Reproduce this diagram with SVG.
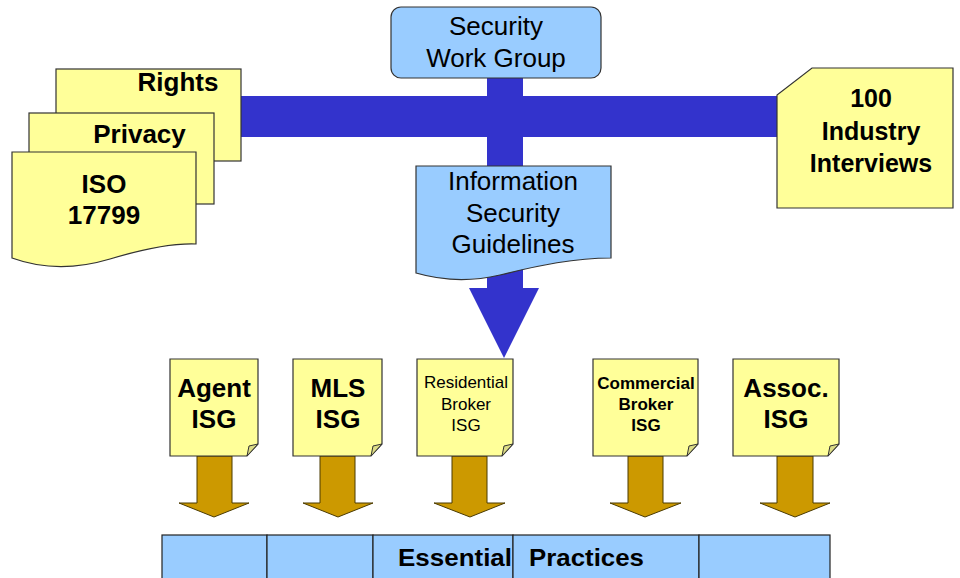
<svg xmlns="http://www.w3.org/2000/svg" width="960" height="578" viewBox="0 0 960 578">
  <style>
    .doc { fill: #FFFF99; stroke: #333333; stroke-width: 1.2; }
    .fold { fill: #DCDC86; stroke: #333333; stroke-width: 1; }
    .box { fill: #99CCFF; stroke: #333333; stroke-width: 1.2; }
    .bar { fill: #3333CC; }
    .gold { fill: #CC9900; stroke: #4A3A00; stroke-width: 1; }
    .cell { fill: #99CCFF; stroke: #222222; stroke-width: 1.2; }
    text { font-family: "Liberation Sans", Arial, sans-serif; fill: #000000; text-anchor: middle; }
    .b { font-weight: bold; font-size: 26px; }
    .r { font-size: 26px; }
    .sm { font-size: 17px; }
    .smb { font-size: 17px; font-weight: bold; }
  </style>

  <!-- connectors: blue flow bars and gold feed arrows -->
  <g id="connectors">
    <rect class="bar" x="240" y="96" width="538" height="41"/>
    <path class="bar" d="M487,78 H523 V288 H539 L504,358 L469,288 H487 Z"/>
    <path class="gold" d="M197,456 H232 V503 H249 L214,517 L179,503 H197 Z"/>
    <path class="gold" d="M320,456 H355 V503 H373 L338,517 L303,503 H320 Z"/>
    <path class="gold" d="M452,456 H487 V503 H505 L470,517 L434,503 H452 Z"/>
    <path class="gold" d="M628,456 H663 V503 H681 L645,517 L610,503 H628 Z"/>
    <path class="gold" d="M777,456 H813 V503 H830 L795,517 L760,503 H777 Z"/>
  </g>

  <!-- source documents on the left -->
  <g id="rights">
    <rect class="doc" x="56" y="69" width="185" height="92"/>
    <text class="b" x="178" y="91">Rights</text>
  </g>
  <g id="privacy">
    <rect class="doc" x="29" y="113" width="185" height="91"/>
    <text class="b" x="139.5" y="143">Privacy</text>
  </g>
  <g id="iso">
    <path class="doc" d="M12,152 H196 V244 C170,243 140,250 110,259 C80,268 45,270 12,258 Z"/>
    <text class="b" x="104" y="193">ISO</text>
    <text class="b" x="104" y="224">17799</text>
  </g>

  <g id="work-group">
    <rect class="box" x="391" y="7" width="210" height="71" rx="10" ry="10"/>
    <text class="r" x="496" y="35">Security</text>
    <text class="r" x="496" y="67">Work Group</text>
  </g>

  <g id="guidelines">
    <path class="box" d="M416,166 H611 V258 C575,258 540,265 500,275 C470,282 440,280 416,273 Z"/>
    <text class="r" x="513" y="190">Information</text>
    <text class="r" x="513" y="222">Security</text>
    <text class="r" x="513" y="253">Guidelines</text>
  </g>

  <g id="interviews">
    <path class="doc" d="M812,68 H953 V208 H777 V95 Z"/>
    <text class="b" x="871" y="107" style="font-size:25px">100</text>
    <text class="b" x="871" y="140" style="font-size:25px">Industry</text>
    <text class="b" x="871" y="172" style="font-size:25px">Interviews</text>
  </g>

  <!-- individual guideline documents -->
  <g id="agent-isg">
    <path class="doc" d="M170,359 H258 V444 L247,456 H170 Z"/>
    <path class="fold" d="M258,444 L247,456 L249,446 Z"/>
    <text class="b" x="214" y="397">Agent</text>
    <text class="b" x="214" y="428">ISG</text>
  </g>
  <g id="mls-isg">
    <path class="doc" d="M293,359 H382 V444 L371,456 H293 Z"/>
    <path class="fold" d="M382,444 L371,456 L373,446 Z"/>
    <text class="b" x="338" y="397">MLS</text>
    <text class="b" x="338" y="428">ISG</text>
  </g>
  <g id="residential-isg">
    <path class="doc" d="M417,359 H513 V444 L502,456 H417 Z"/>
    <path class="fold" d="M513,444 L502,456 L504,446 Z"/>
    <text class="sm" x="466" y="388">Residential</text>
    <text class="sm" x="466" y="410">Broker</text>
    <text class="sm" x="466" y="431">ISG</text>
  </g>
  <g id="commercial-isg">
    <path class="doc" d="M593,359 H698 V444 L687,456 H593 Z"/>
    <path class="fold" d="M698,444 L687,456 L689,446 Z"/>
    <text class="smb" x="646" y="389">Commercial</text>
    <text class="smb" x="646" y="410">Broker</text>
    <text class="smb" x="646" y="431">ISG</text>
  </g>
  <g id="assoc-isg">
    <path class="doc" d="M733,359 H839 V444 L828,456 H733 Z"/>
    <path class="fold" d="M839,444 L828,456 L830,446 Z"/>
    <text class="b" x="786" y="397">Assoc.</text>
    <text class="b" x="786" y="428">ISG</text>
  </g>

  <!-- shared base of practices -->
  <g id="essential-practices">
    <rect class="cell" x="162" y="535" width="105" height="60"/>
    <rect class="cell" x="267" y="535" width="106" height="60"/>
    <rect class="cell" x="373" y="535" width="140" height="60"/>
    <rect class="cell" x="513" y="535" width="186" height="60"/>
    <rect class="cell" x="699" y="535" width="131" height="60"/>
    <text class="b" x="398" y="566" style="text-anchor:start;font-size:24px" textLength="114" lengthAdjust="spacingAndGlyphs">Essential</text>
    <text class="b" x="529" y="566" style="text-anchor:start;font-size:24px" textLength="115" lengthAdjust="spacingAndGlyphs">Practices</text>
  </g>
</svg>
